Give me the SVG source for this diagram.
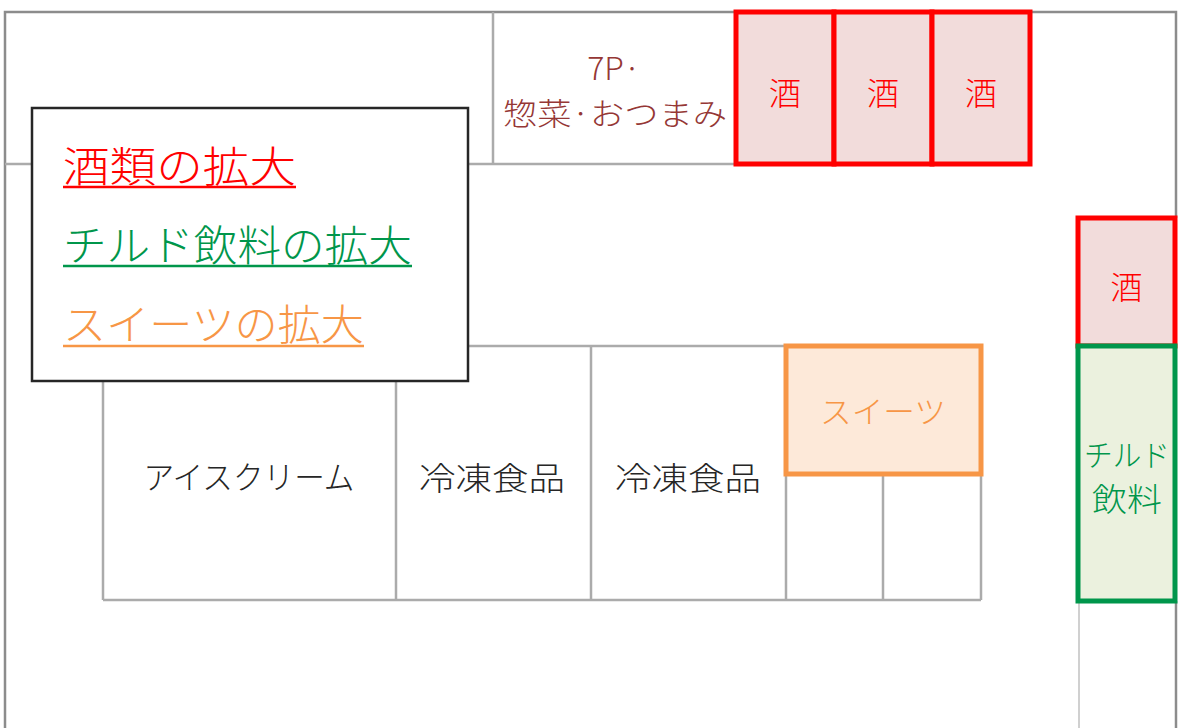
<svg xmlns="http://www.w3.org/2000/svg" width="1178" height="728" viewBox="0 0 1178 728">
<style>
text{font-family:"Noto Sans CJK JP","Noto Sans CJK SC",sans-serif;font-weight:300}
.wall{stroke:#8c8c8c;stroke-width:2.5;fill:none}
.shelf{stroke:#ababab;stroke-width:2.5;fill:none}
.sake{fill:#f2dcdb;stroke:#ff0000;stroke-width:5}
.sakeT{fill:#ff0000;font-size:32px;text-anchor:middle}
.dark{fill:#262626;font-size:32px;text-anchor:middle}
</style>
<rect width="1178" height="728" fill="#ffffff"/>
<g id="walls">
<polyline class="wall" points="5,728 5,12 1176,12 1176,218"/>
<line class="wall" x1="1176" y1="601" x2="1176" y2="728"/>
<line x1="1079" y1="601" x2="1079" y2="728" stroke="#c0c0c0" stroke-width="1.5"/>
</g>
<g id="connectors">
<line class="shelf" x1="5" y1="164" x2="737" y2="164"/>
<line class="shelf" x1="493" y1="12" x2="493" y2="164"/>
<polyline class="shelf" points="103,346 786,346"/>
<line class="shelf" x1="103" y1="346" x2="103" y2="600"/>
<line class="shelf" x1="396" y1="346" x2="396" y2="600"/>
<line class="shelf" x1="591" y1="346" x2="591" y2="600"/>
<line class="shelf" x1="786" y1="474" x2="786" y2="600"/>
<line class="shelf" x1="883" y1="474" x2="883" y2="600"/>
<line class="shelf" x1="981" y1="474" x2="981" y2="600"/>
<line class="shelf" x1="103" y1="600" x2="981" y2="600"/>
</g>
<g id="deli">
<text x="614" y="80" fill="#953735" font-size="32" text-anchor="middle">7P·</text>
<text x="615" y="125" fill="#953735" font-size="31" text-anchor="middle" textLength="224" lengthAdjust="spacingAndGlyphs">惣菜·おつまみ</text>
</g>
<g id="sake1"><rect class="sake" x="736" y="12" width="98" height="152"/><text class="sakeT" x="785" y="105">酒</text></g>
<g id="sake2"><rect class="sake" x="834" y="12" width="98" height="152"/><text class="sakeT" x="883" y="105">酒</text></g>
<g id="sake3"><rect class="sake" x="932" y="12" width="98" height="152"/><text class="sakeT" x="981" y="105">酒</text></g>
<g id="sake4"><rect class="sake" x="1078" y="218" width="97" height="128"/><text class="sakeT" x="1126.5" y="299">酒</text></g>
<g id="chilled">
<rect x="1078" y="346" width="97" height="255" fill="#ebf1de" stroke="#00964b" stroke-width="5"/>
<text x="1127" y="466" fill="#00964b" font-size="30" text-anchor="middle" textLength="86" lengthAdjust="spacingAndGlyphs">チルド</text>
<text x="1127" y="511" fill="#00964b" font-size="32" text-anchor="middle" textLength="70" lengthAdjust="spacingAndGlyphs">飲料</text>
</g>
<g id="sweets">
<rect x="786" y="346" width="195" height="128" fill="#fde9d9" stroke="#f79646" stroke-width="5"/>
<text x="883" y="423" fill="#f79646" font-size="31" text-anchor="middle" textLength="126" lengthAdjust="spacingAndGlyphs">スイーツ</text>
</g>
<g id="icecream"><text class="dark" x="249" y="489" textLength="211" lengthAdjust="spacingAndGlyphs">アイスクリーム</text></g>
<g id="frozen1"><text class="dark" x="492" y="490" textLength="146" lengthAdjust="spacingAndGlyphs">冷凍食品</text></g>
<g id="frozen2"><text class="dark" x="688" y="490" textLength="146" lengthAdjust="spacingAndGlyphs">冷凍食品</text></g>
<g id="legend">
<rect x="32" y="108" width="436" height="273" fill="#ffffff" stroke="#262626" stroke-width="2.5"/>
<text x="63" y="182" fill="#ff0000" font-size="42" textLength="233" lengthAdjust="spacingAndGlyphs">酒類の拡大</text>
<line x1="63" y1="187" x2="296" y2="187" stroke="#ff0000" stroke-width="2.5"/>
<text x="63" y="261" fill="#00964b" font-size="42" textLength="349" lengthAdjust="spacingAndGlyphs">チルド飲料の拡大</text>
<line x1="63" y1="266" x2="412" y2="266" stroke="#00964b" stroke-width="2.5"/>
<text x="63" y="340" fill="#f79646" font-size="42" textLength="301" lengthAdjust="spacingAndGlyphs">スイーツの拡大</text>
<line x1="63" y1="346" x2="364" y2="346" stroke="#f79646" stroke-width="2.5"/>
</g>
</svg>
